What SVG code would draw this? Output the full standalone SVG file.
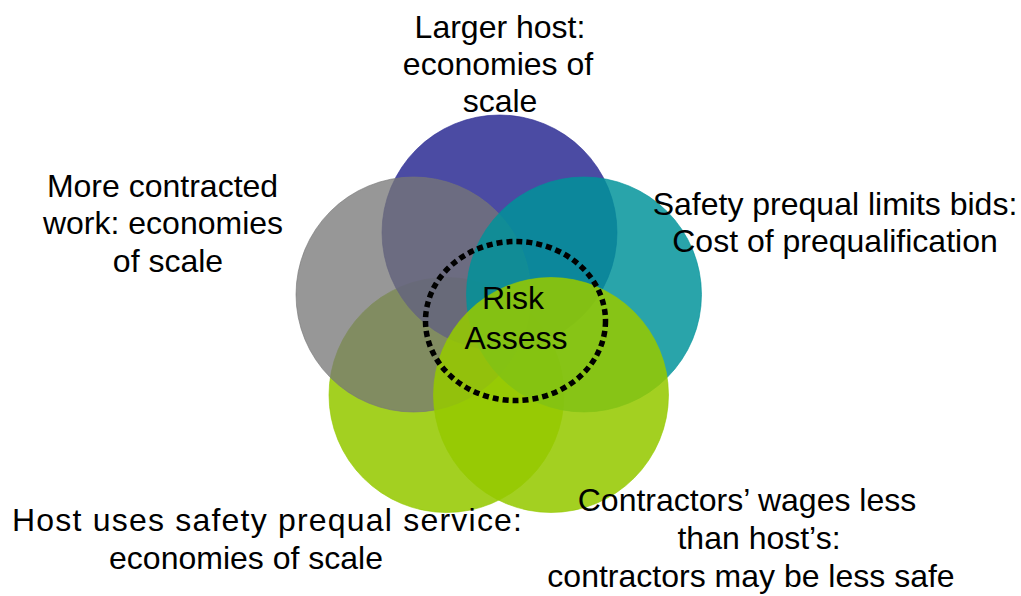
<svg xmlns="http://www.w3.org/2000/svg" width="1021" height="596" viewBox="0 0 1021 596">
<style>
  .lbl { font-family: "Liberation Sans", Arial, sans-serif; font-size: 32px; fill: #000; text-anchor: middle; }
  .c { stroke-width: 1; }
</style>
<rect width="1021" height="596" fill="#ffffff"/>
<g id="circle-host-prequal">
  <circle class="c" cx="446.5" cy="395" r="117.5" fill="#95c900" fill-opacity="0.87" stroke="#95c900" stroke-opacity="0.6"/>
</g>
<g id="circle-larger-host">
  <circle class="c" cx="499.5" cy="232.5" r="117.5" fill="#2b2c93" fill-opacity="0.85" stroke="#2b2c93" stroke-opacity="0.6"/>
</g>
<g id="circle-more-contracted">
  <circle class="c" cx="413.5" cy="294.5" r="117.5" fill="#767676" fill-opacity="0.76" stroke="#767676" stroke-opacity="0.6"/>
</g>
<g id="circle-safety-prequal">
  <circle class="c" cx="584" cy="294.5" r="117.5" fill="#00929a" fill-opacity="0.84" stroke="#00929a" stroke-opacity="0.6"/>
</g>
<g id="circle-contractors-wages">
  <circle class="c" cx="551" cy="395" r="117.5" fill="#95c900" fill-opacity="0.87" stroke="#95c900" stroke-opacity="0.6"/>
</g>
<g id="risk-assess">
  <ellipse cx="515.5" cy="321" rx="90" ry="79.5" fill="none" stroke="#000" stroke-width="5.5" stroke-dasharray="6 4"/>
  <text class="lbl" x="513" y="309">Risk</text>
  <text class="lbl" x="516" y="349">Assess</text>
</g>
<g id="label-top">
  <text class="lbl" x="500" y="38">Larger host:</text>
  <text class="lbl" x="498" y="75">economies of</text>
  <text class="lbl" x="500" y="112">scale</text>
</g>
<g id="label-left">
  <text class="lbl" x="162.5" y="197">More contracted</text>
  <text class="lbl" x="163" y="234">work: economies</text>
  <text class="lbl" x="168" y="272">of scale</text>
</g>
<g id="label-right">
  <text class="lbl" x="835" y="215">Safety prequal limits bids:</text>
  <text class="lbl" x="835" y="252">Cost of prequalification</text>
</g>
<g id="label-bottom-right">
  <text class="lbl" x="747" y="511">Contractors’ wages less</text>
  <text class="lbl" x="759" y="549">than host’s:</text>
  <text class="lbl" x="751" y="587">contractors may be less safe</text>
</g>
<g id="label-bottom-left">
  <text class="lbl" x="267" y="531" textLength="510" lengthAdjust="spacing">Host uses safety prequal service:</text>
  <text class="lbl" x="246" y="569">economies of scale</text>
</g>
<g id="connectors"></g>
</svg>
